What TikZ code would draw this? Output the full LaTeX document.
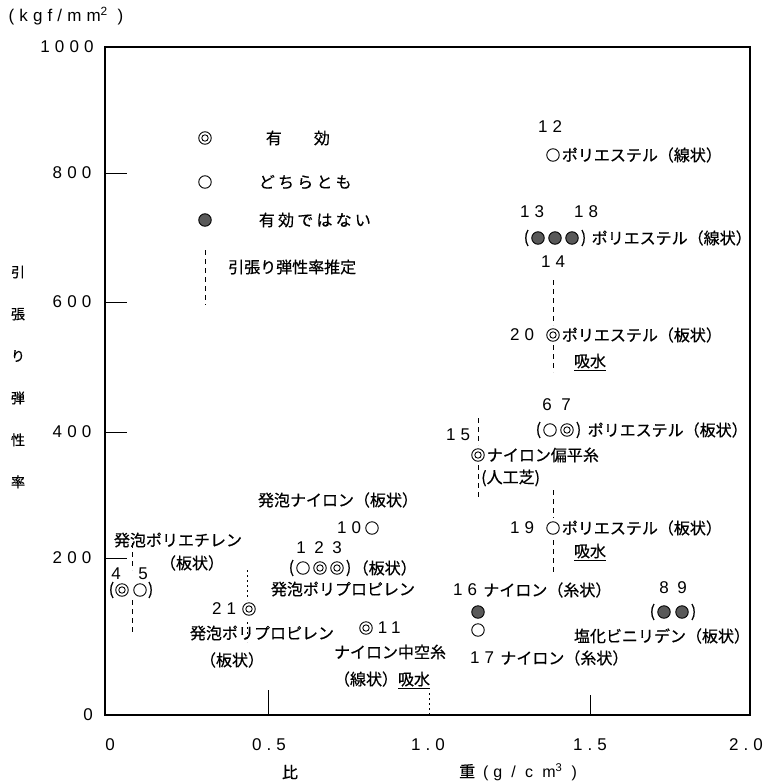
\documentclass[tikz,border=0pt]{standalone}
\usepackage{fontspec}
\setmainfont{Noto Sans CJK JP}[FakeBold=0.5]
\newfontfamily\numfont[LetterSpace=30]{Liberation Sans}
\usepackage{tikz}
\usetikzlibrary{positioning}
\tikzstyle{lab}=[inner sep=0pt,font=\fontsize{16}{18}\selectfont]
\tikzstyle{spaced}=[lab,font=\fontsize{16}{18}\selectfont\addfontfeature{LetterSpace=20}]
\tikzstyle{num}=[inner sep=0pt,font=\numfont\fontsize{17}{18}\selectfont]
\tikzstyle{mk}=[circle,draw=black,line width=0.9pt,minimum size=12.5pt,inner sep=0pt]
\tikzstyle{hollowmk}=[mk,fill=white]
\tikzstyle{bullmk}=[mk,fill=white,path picture={\draw[line width=0.9pt] (path picture bounding box.center) circle (3.2pt);}]
\tikzstyle{filledmk}=[mk,fill=black!65]
\tikzstyle{estline}=[line width=0.8pt,dash pattern=on 5pt off 4pt]
\tikzstyle{dotline}=[line width=0.8pt,dash pattern=on 2pt off 3pt]

\begin{document}
\begin{tikzpicture}[x=1pt,y=-1pt]
\useasboundingbox (0,0) rectangle (765,782);
% frame and ticks
\draw[line width=1.2pt] (105,47) rectangle (750,715);
\foreach \yy/\yv in {173/800,302/600,432/400,558/200}{
  \draw[line width=0.9pt] (105,\yy) -- (127,\yy);
  \node[num] (yl\yv) at (72,\yy) {\yv};
}
\node[num] (yl1000) at (67,47) {1000};
\node[num] (yl0) at (88,715) {0};
\draw[line width=0.9pt] (268,715) -- (268,690);
\draw[dotline] (429,715) -- (429,693);
\draw[line width=0.6pt] (590,715) -- (590,695);
\foreach \xx/\xv/\xn in {110/0/a,269/0.5/b,428/1.0/c,590/1.5/d,746/2.0/e}{
  \node[num] (xl\xn) at (\xx,745) {\xv};
}
\node[num] (yunit) at (66,16) {(kgf/mm\textsuperscript{2} )};
\node[lab,align=center,font=\fontsize{14}{42}\selectfont] (ytitle) at (18,377) {引\\張\\り\\弾\\性\\率};
\node[lab] (xtitle1) at (290,772) {比};
\node[lab,anchor=west] (xtitle2) at (459,772) {重\hspace{8pt}{\numfont (g / c m\textsuperscript{3} )}};

% legend
\node[bullmk] (lg1) at (205,138) {};
\node[lab,right=54pt of lg1] (lgt1) {有\hspace{2em}効};
\node[hollowmk] (lg2) at (205,182) {};
\node[spaced,right=47pt of lg2] (lgt2) {どちらとも};
\node[filledmk] (lg3) at (205,220) {};
\node[spaced,right=47pt of lg3] (lgt3) {有効ではない};
\coordinate (lg4a) at (205,250);
\coordinate (lg4b) at (205,305);
\draw[estline] (lg4a) -- (lg4b);
\node[lab,anchor=west] (lgt4) at (228,267) {引張り弾性率推定};

% 12
\node[hollowmk] (m12) at (553,155) {};
\node[num] (n12) at (550,127) {12};
\node[lab,right=2pt of m12] (t12) {ポリエステル（線状）};
% 13 14 18
\node[filledmk] (m13) at (538,238) {};
\node[filledmk] (m14) at (555,238) {};
\node[filledmk] (m18) at (572,238) {};
\node[lab,left=2pt of m13] (p13a) {(};
\node[lab,right=2pt of m18] (p13b) {)};
\node[lab,right=5pt of p13b] (t13) {ポリエステル（線状）};
\node[num] (n13) at (532,212) {13};
\node[num] (n18) at (586,212) {18};
\node[num] (n14) at (553,262) {14};
% 20
\coordinate (e20a) at (553,280);
\coordinate (e20b) at (553,325);
\coordinate (e20c) at (553,345);
\coordinate (e20d) at (553,372);
\draw[estline] (e20a) -- (e20b);
\draw[estline] (e20c) -- (e20d);
\node[bullmk] (m20) at (553,335) {};
\node[num,left=12pt of m20] (n20) {20};
\node[lab,right=2pt of m20] (t20) {ポリエステル（板状）};
\node[lab] (w20) at (590,362) {\underline{吸水}};
% 6 7
\node[hollowmk] (m6) at (550,430) {};
\node[bullmk] (m7) at (567,430) {};
\node[lab,left=2pt of m6] (p6a) {(};
\node[lab,right=2pt of m7] (p7b) {)};
\node[lab,right=6pt of p7b] (t67) {ポリエステル（板状）};
\node[num] (n6) at (547,405) {6};
\node[num] (n7) at (566,405) {7};
% 15
\coordinate (e15a) at (478,418);
\coordinate (e15b) at (478,445);
\coordinate (e15c) at (478,465);
\coordinate (e15d) at (478,500);
\draw[estline] (e15a) -- (e15b);
\draw[estline] (e15c) -- (e15d);
\node[bullmk] (m15) at (478,455) {};
\node[num] (n15) at (458,435) {15};
\node[lab,right=2pt of m15] (t15) {ナイロン偏平糸};
\node[lab,anchor=west] (t15b) at (481,478) {(人工芝)};
% 19
\coordinate (e19a) at (553,490);
\coordinate (e19b) at (553,518);
\coordinate (e19c) at (553,540);
\coordinate (e19d) at (553,575);
\draw[estline] (e19a) -- (e19b);
\draw[estline] (e19c) -- (e19d);
\node[hollowmk] (m19) at (553,528) {};
\node[num,left=12pt of m19] (n19) {19};
\node[lab,right=2pt of m19] (t19) {ポリエステル（板状）};
\node[lab] (w19) at (590,552) {\underline{吸水}};
% 16 17
\node[num] (n16) at (465,590) {16};
\node[lab,right=6pt of n16] (t16) {ナイロン（糸状）};
\node[filledmk] (m16) at (478,612) {};
\node[hollowmk] (m17) at (478,630) {};
\node[num] (n17) at (482,658) {17};
\node[lab,right=6pt of n17] (t17) {ナイロン（糸状）};
% 8 9
\node[filledmk] (m8) at (664,612) {};
\node[filledmk] (m9) at (682,612) {};
\node[lab,left=2pt of m8] (p8a) {(};
\node[lab,right=2pt of m9] (p9b) {)};
\node[num] (n8) at (664,588) {8};
\node[num] (n9) at (682,588) {9};
\node[lab] (t89) at (662,636) {塩化ビニリデン（板状）};
% 10
\node[lab] (t10) at (338,500) {発泡ナイロン（板状）};
\node[hollowmk] (m10) at (372,528) {};
\node[num,left=4pt of m10] (n10) {10};
% 1 2 3
\node[hollowmk] (m1) at (303,568) {};
\node[bullmk] (m2) at (320,568) {};
\node[bullmk] (m3) at (337,568) {};
\node[lab,left=2pt of m1] (p1a) {(};
\node[lab,right=2pt of m3] (p3b) {)};
\node[lab,right=1pt of p3b] (t123) {（板状）};
\node[num] (n1) at (301,548) {1};
\node[num] (n2) at (319,548) {2};
\node[num] (n3) at (337,548) {3};
\node[lab] (t123b) at (343,589) {発泡ポリプロピレン};
% 21
\coordinate (e21a) at (247,570);
\coordinate (e21b) at (247,600);
\coordinate (e21c) at (247,622);
\coordinate (e21d) at (247,642);
\draw[dotline] (e21a) -- (e21b);
\draw[dotline] (e21c) -- (e21d);
\node[bullmk] (m21) at (249,609) {};
\node[num,left=6pt of m21] (n21) {21};
\node[lab] (t21) at (262,633) {発泡ポリプロピレン};
\node[lab] (t21b) at (232,660) {（板状）};
% 11
\node[bullmk] (m11) at (366,628) {};
\node[num,right=5pt of m11] (n11) {11};
\node[lab] (t11) at (390,652) {ナイロン中空糸};
\node[lab] (t11b) at (382,680) {（線状）\underline{吸水}};
% 4 5
\node[lab] (t45) at (178,540) {発泡ポリエチレン};
\node[lab] (t45b) at (192,563) {（板状）};
\coordinate (e45a) at (132,543);
\coordinate (e45b) at (132,570);
\coordinate (e45c) at (132,600);
\coordinate (e45d) at (132,635);
\draw[estline] (e45a) -- (e45b);
\draw[estline] (e45c) -- (e45d);
\node[bullmk] (m4) at (122,590) {};
\node[hollowmk] (m5) at (140,590) {};
\node[lab,left=1pt of m4] (p4a) {(};
\node[lab,right=1pt of m5] (p5b) {)};
\node[num] (n4) at (116,574) {4};
\node[num] (n5) at (143,574) {5};
\end{tikzpicture}
\end{document}
